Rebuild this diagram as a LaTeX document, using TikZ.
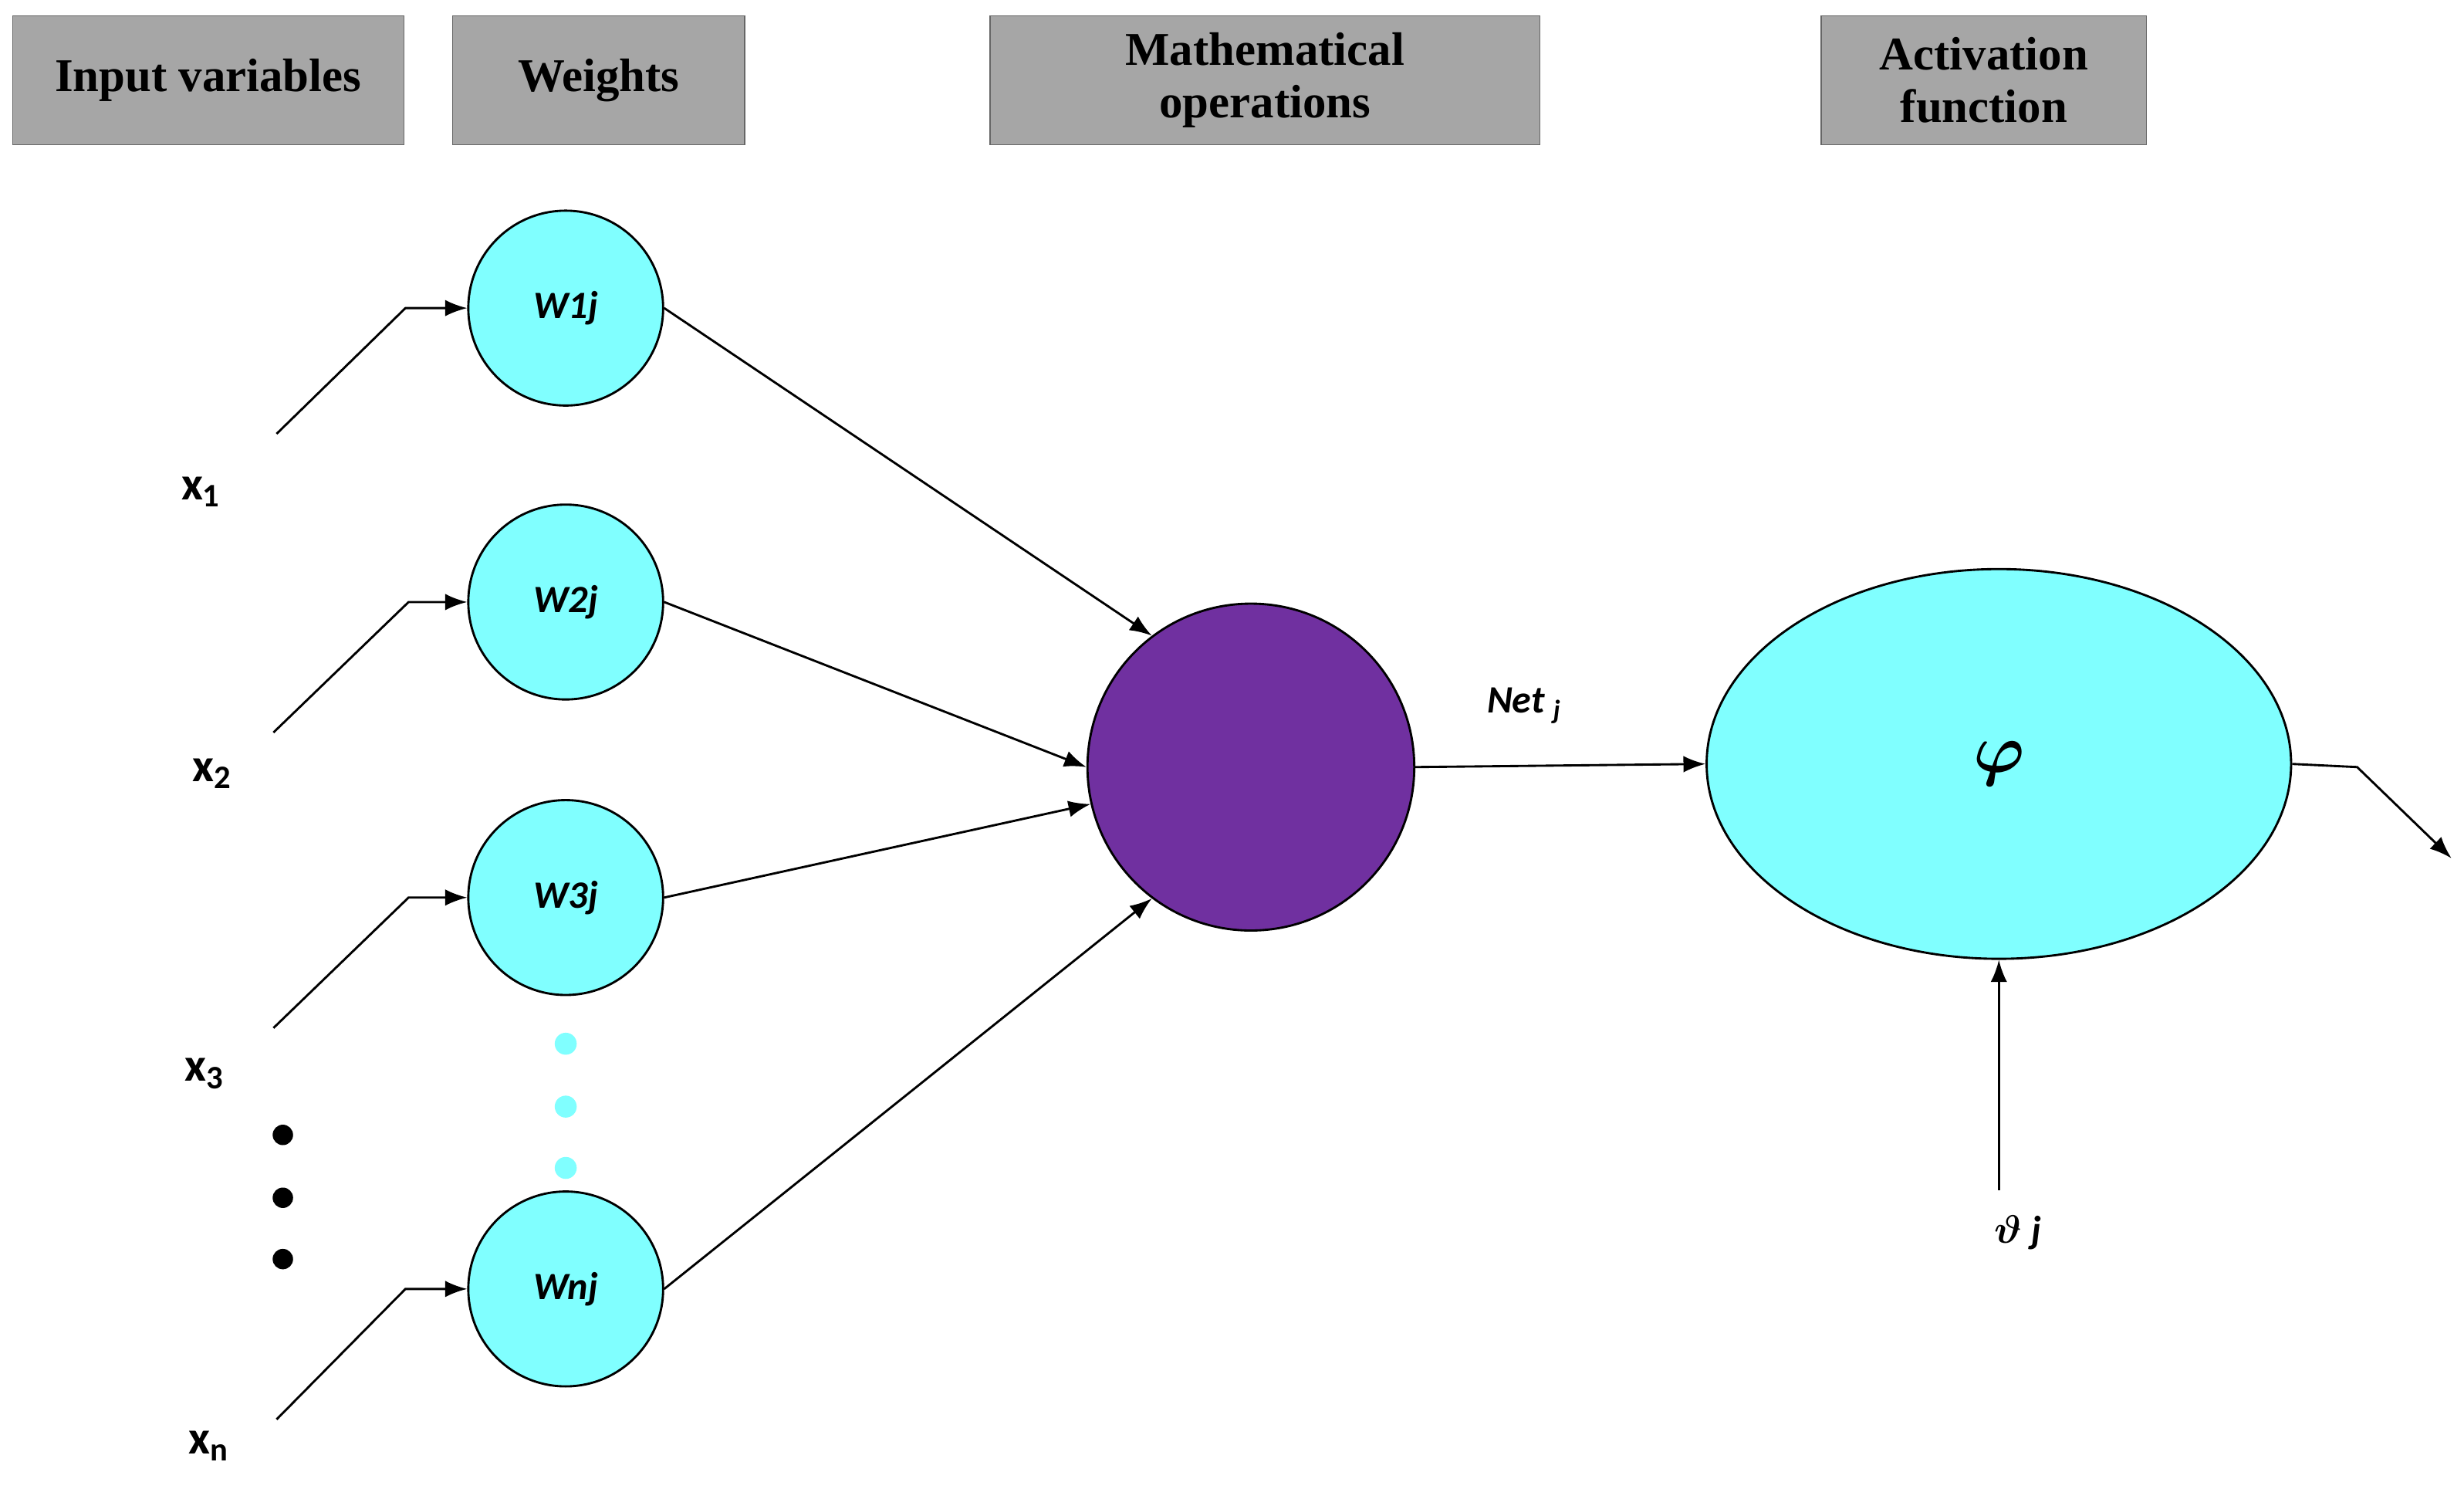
\documentclass[tikz,border=0pt]{standalone}
\usepackage{amsmath,bm}
\usepackage{fontspec}
\setmainfont{Liberation Serif}
\newfontfamily\lab{Carlito}
\usetikzlibrary{arrows.meta,shapes.geometric}
\definecolor{hdr}{HTML}{A6A6A6}
\definecolor{cy}{HTML}{80FFFF}
\definecolor{pu}{HTML}{7030A0}
\begin{document}
\begin{tikzpicture}[x=0.02cm,y=-0.02cm,
 hd/.style={draw=black!60,fill=hdr,minimum height=1.64cm,align=center,font=\fontsize{17}{19}\selectfont\bfseries,inner sep=0pt},
 wc/.style={circle,draw,thick,fill=cy,minimum size=2.48cm,inner sep=0pt,font=\lab\fontsize{14}{16}\selectfont\bfseries\itshape},
 xl/.style={font=\lab\fontsize{17}{19}\selectfont\bfseries},
 ar/.style={thick,-{Latex[length=8pt,width=6pt]}},
 cd/.style={circle,fill=cy,minimum size=0.28cm,inner sep=0pt},
 bd/.style={circle,fill=black,minimum size=0.26cm,inner sep=0pt}]
\useasboundingbox (0,0) rectangle (1568,947);
\node[hd,minimum width=4.98cm] (h1) at (132.5,51) {Input variables};
\node[hd,minimum width=3.72cm] (h2) at (381,51) {Weights};
\node[hd,minimum width=7cm] (h3) at (805,51) {Mathematical\\operations};
\node[hd,minimum width=4.14cm] (h4) at (1262.5,51) {Activation\\function};
\node[wc] (w1) at (360,196) {W1j};
\node[wc] (w2) at (360,383) {W2j};
\node[wc] (w3) at (360,571) {W3j};
\node[wc] (wn) at (360,820) {Wnj};
\node[cd] (c1) at (360,664) {};
\node[cd] (c2) at (360,704) {};
\node[cd] (c3) at (360,743) {};
\node[bd] (b1) at (180,722) {};
\node[bd] (b2) at (180,762) {};
\node[bd] (b3) at (180,801) {};
\node[xl] (x1) at (128,313) {x\textsubscript{1}};
\node[xl] (x2) at (135,492) {x\textsubscript{2}};
\node[xl] (x3) at (130,683) {x\textsubscript{3}};
\node[xl] (xn) at (133,920) {x\textsubscript{n}};
\coordinate (s1) at (176,276); \coordinate (s2) at (174,466);
\coordinate (s3) at (174,654); \coordinate (sn) at (176,903);
\draw[ar] (s1) -- (258,196) -- (w1.west);
\draw[ar] (s2) -- (260,383) -- (w2.west);
\draw[ar] (s3) -- (260,571) -- (w3.west);
\draw[ar] (sn) -- (258,820) -- (wn.west);
\node[circle,draw,thick,fill=pu,minimum size=4.16cm,inner sep=0pt] (sig) at (796,488) {\fontsize{34}{36}\selectfont$\bm{\mathit{\Sigma}}$};
\draw[ar] (w1.east) -- (sig.127);
\draw[ar] (w2.east) -- (sig.west);
\draw[ar] (w3.east) -- (sig.193);
\draw[ar] (wn.east) -- (sig.233);
\node[ellipse,draw,thick,fill=cy,minimum width=7.44cm,minimum height=4.96cm,inner sep=0pt] (phi) at (1272,486) {\fontsize{34}{36}\selectfont$\bm{\varphi}$};
\draw[ar] (sig.east) -- (phi.west);
\node[font=\lab\fontsize{14}{16}\selectfont\bfseries\itshape] (net) at (970,449) {Net \textsubscript{j}};
\coordinate (o1) at (1560,546);
\draw[ar] (phi.east) -- (1500,488) -- (o1);
\node[font=\fontsize{14}{16}\selectfont\bfseries] (th) at (1284,784) {$\bm{\vartheta}$ {\lab\itshape j}};
\draw[ar] (1272,757) -- (phi.south);
\end{tikzpicture}
\end{document}
